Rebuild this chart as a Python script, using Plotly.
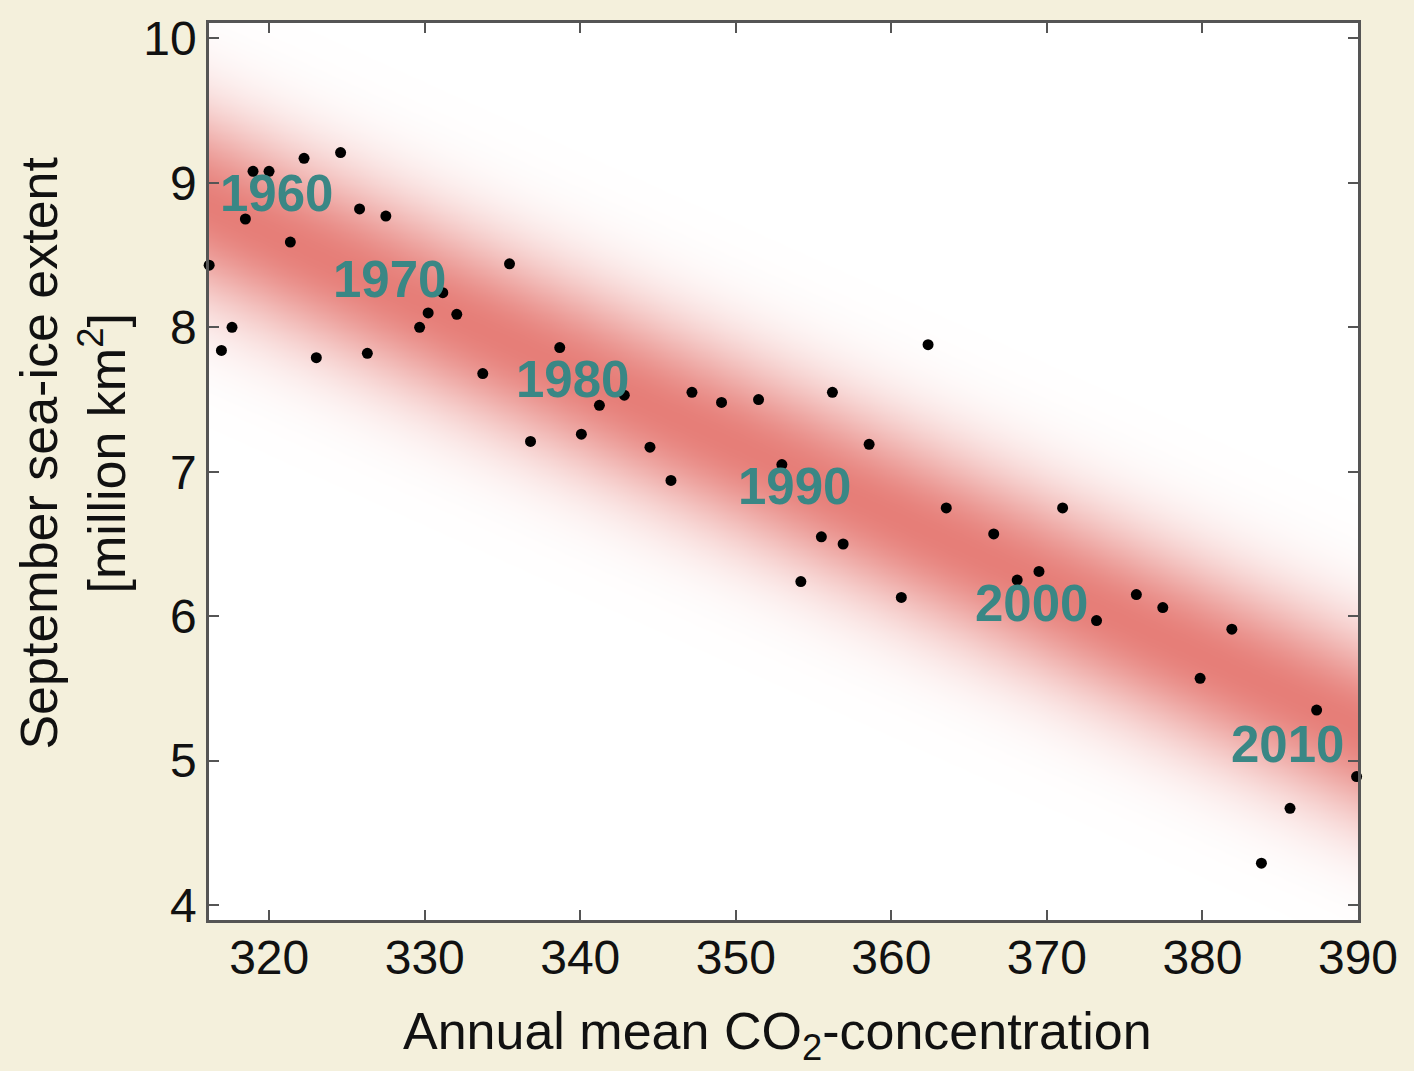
import plotly.graph_objects as go
import numpy as np

# ---- data ----
co2 = [316.14, 316.93, 317.61, 318.47, 318.96, 319.99, 321.36, 322.24, 323.03, 324.59,
       325.81, 326.31, 327.50, 329.67, 330.22, 331.16, 332.06, 333.73, 335.45, 336.80,
       338.68, 340.07, 341.23, 342.83, 344.48, 345.83, 347.18, 349.08, 351.46, 352.96,
       354.18, 355.50, 356.21, 356.90, 358.57, 360.64, 362.36, 363.53, 366.58, 368.09,
       369.49, 371.01, 373.19, 375.75, 377.45, 379.85, 381.89, 383.79, 385.63, 387.34,
       389.91]
ice = [8.43, 7.84, 8.00, 8.75, 9.08, 9.08, 8.59, 9.17, 7.79, 9.21,
       8.82, 7.82, 8.77, 8.00, 8.10, 8.24, 8.09, 7.68, 8.44, 7.21,
       7.86, 7.26, 7.46, 7.53, 7.17, 6.94, 7.55, 7.48, 7.50, 7.05,
       6.24, 6.55, 7.55, 6.50, 7.19, 6.13, 7.88, 6.75, 6.57, 6.25,
       6.31, 6.75, 5.97, 6.15, 6.06, 5.57, 5.91, 4.29, 4.67, 5.35,
       4.89]

decade_labels = ["1960", "1970", "1980", "1990", "2000", "2010"]
decade_x = [320.46, 327.74, 339.51, 353.78, 369.04, 385.46]
decade_y = [8.93, 8.33, 7.64, 6.90, 6.09, 5.11]

fit_x = [316.13, 390.0]
fit_y = [8.84, 5.24]
band_sigma = 0.65

x_range = [316.13, 390.0]
y_range = [3.897, 10.107]
x_ticks = [320, 330, 340, 350, 360, 370, 380, 390]
y_ticks = [4, 5, 6, 7, 8, 9, 10]

# ---- figure ----
fig = go.Figure()

# soft gradient band around the fitted line, drawn as a smooth heatmap
gx = np.linspace(x_range[0], x_range[1], 160)
gy = np.linspace(y_range[0], y_range[1], 400)
slope = (fit_y[1] - fit_y[0]) / (fit_x[1] - fit_x[0])
line_at = fit_y[0] + slope * (gx - fit_x[0])
dist = gy[:, None] - line_at[None, :]
band = np.exp(-(dist / band_sigma) ** 2)
fig.add_trace(go.Heatmap(
    x=gx, y=gy, z=band, zmin=0, zmax=1, zsmooth="best",
    colorscale=[[0, "rgb(255,255,255)"], [1, "rgb(230,126,120)"]],
    showscale=False, hoverinfo="skip",
))

fig.add_trace(go.Scatter(
    x=co2, y=ice, mode="markers",
    marker=dict(color="black", size=11),
    cliponaxis=False, showlegend=False,
))

for t, xx, yy in zip(decade_labels, decade_x, decade_y):
    fig.add_annotation(
        x=xx, y=yy, text=t, showarrow=False,
        font=dict(family="Liberation Sans", size=51, color="#3a8785", weight="bold"),
        xanchor="center", yanchor="middle",
    )

axis_common = dict(
    showline=True, linecolor="#555555", linewidth=2.5, mirror="ticks",
    ticks="inside", ticklen=10, tickwidth=1.5, tickcolor="#555555",
    showgrid=False, zeroline=False,
    tickfont=dict(family="Liberation Sans", size=48, color="#111111"),
)

fig.update_xaxes(range=x_range, tickvals=x_ticks, ticklabelstandoff=-6,
                 ticktext=[str(v) for v in x_ticks], **axis_common)
fig.update_yaxes(range=y_range, tickvals=y_ticks,
                 ticktext=[str(v) for v in y_ticks], **axis_common)

# axis titles
fig.add_annotation(
    xref="paper", yref="paper", x=0.4948, y=0, yshift=-115,
    text="Annual mean CO<sub>2</sub>-concentration", showarrow=False,
    font=dict(family="Liberation Sans", size=52, color="#111111"),
    xanchor="center", yanchor="middle",
)
fig.add_annotation(
    xref="paper", yref="paper", x=0, xshift=-136, y=0.52,
    text="September sea-ice extent<br>[million km<sup>2</sup>]", showarrow=False,
    textangle=-90,
    font=dict(family="Liberation Sans", size=52, color="#111111"),
    xanchor="center", yanchor="middle",
)

fig.update_layout(
    width=1414, height=1071,
    margin=dict(l=209, r=56, t=12, b=151),
    paper_bgcolor="#f4f0dc", plot_bgcolor="white",
    showlegend=False,
)

fig.write_html(
    "out.html",
    config={"displayModeBar": False},
    post_script="document.body.style.margin='0px';document.body.style.overflow='hidden';",
)
